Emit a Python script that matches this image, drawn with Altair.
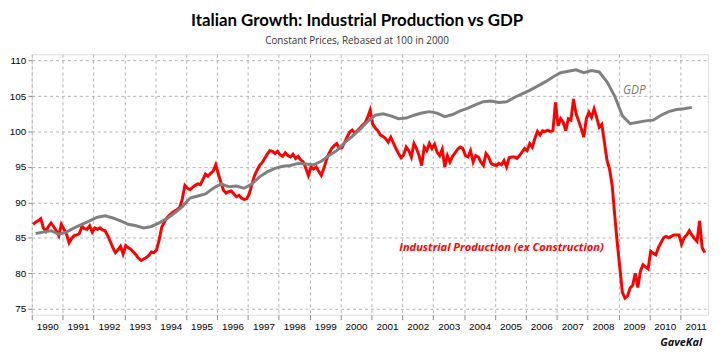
import altair as alt
import pandas as pd

# ---------------- data ----------------
years = list(range(1990, 2012))

ip_1990 = [86.9, 87.2, 87.4, 87.7, 86.4, 85.9, 86.6, 87.1, 86.6, 86.0, 85.3, 86.9]
ip_1991 = [86.2, 85.5, 84.3, 84.9, 85.3, 85.4, 85.6, 86.6, 86.3, 86.2, 86.7, 85.8]
ip_1992 = [86.4, 86.2, 86.4, 86.1, 86.0, 85.3, 84.5, 83.6, 82.9, 83.3, 83.8, 82.7]
ip_1993 = [83.9, 83.6, 83.4, 83.0, 82.6, 82.1, 81.8, 82.0, 82.2, 82.5, 83.0, 82.9]
ip_1994 = [83.3, 84.7, 86.5, 87.2, 87.8, 88.2, 88.5, 88.8, 89.0, 89.3, 90.5, 92.4]
ip_1995 = [92.0, 91.8, 92.1, 92.4, 92.6, 92.5, 93.2, 94.0, 93.7, 94.1, 94.4, 95.3]
ip_1996 = [94.0, 92.8, 91.7, 91.3, 91.5, 91.6, 91.2, 90.8, 91.0, 90.6, 90.4, 90.5]
ip_1997 = [91.2, 92.5, 93.7, 94.5, 95.2, 95.6, 96.2, 96.8, 97.3, 97.2, 96.9, 97.2]
ip_1998 = [96.7, 96.5, 97.0, 96.6, 96.4, 96.8, 96.2, 96.5, 96.0, 95.7, 94.8, 93.8]
ip_1999 = [95.0, 94.7, 95.0, 94.4, 93.8, 94.8, 96.0, 96.9, 97.6, 98.0, 98.3, 97.6]
ip_2000 = [97.7, 98.4, 99.2, 99.9, 100.2, 99.8, 100.1, 100.5, 100.9, 101.2, 102.0, 103.0]
ip_2001 = [101.0, 100.5, 100.1, 99.5, 99.3, 99.0, 98.5, 99.2, 98.4, 97.6, 96.9, 96.3]
ip_2002 = [96.7, 97.8, 97.3, 96.4, 98.3, 97.6, 96.6, 95.2, 97.8, 97.3, 98.3, 97.6]
ip_2003 = [98.2, 97.1, 96.6, 97.5, 95.0, 96.6, 95.7, 96.5, 97.0, 97.5, 97.8, 97.6]
ip_2004 = [96.6, 96.4, 97.3, 95.7, 96.6, 96.4, 95.7, 95.2, 96.9, 96.4, 95.5, 95.3]
ip_2005 = [95.2, 95.5, 95.3, 95.9, 95.0, 96.3, 96.4, 96.4, 96.2, 96.6, 97.1, 97.6]
ip_2006 = [97.3, 98.3, 97.8, 99.0, 100.0, 99.5, 100.1, 100.0, 100.2, 100.0, 100.1, 104.1]
ip_2007 = [100.8, 101.8, 101.3, 100.1, 101.8, 101.6, 104.6, 102.5, 101.5, 100.4, 99.2, 101.8]
ip_2008 = [102.7, 102.0, 103.2, 102.0, 100.6, 101.0, 98.5, 96.0, 94.7, 92.5, 88.3, 84.3]
ip_2009 = [80.8, 77.3, 76.5, 76.8, 77.9, 78.3, 80.0, 78.0, 80.3, 81.2, 80.9, 80.6]
ip_2010 = [83.1, 82.8, 82.6, 83.6, 84.3, 85.0, 85.2, 85.0, 85.2, 85.4, 85.4, 85.4]
ip_2011 = [84.1, 85.0, 85.4, 86.0, 85.4, 84.9, 84.5, 87.4, 83.6, 82.9]

# quarterly GDP, 1990Q1 .. 2011Q2
gdp_quarterly = [
    85.6, 85.8, 86.0, 85.5,
    85.8, 86.4, 86.9, 87.4,
    87.9, 88.1, 87.8, 87.4,
    86.9, 86.7, 86.4, 86.6,
    87.1, 87.7, 88.5, 89.4,
    90.6, 90.9, 91.2, 92.0,
    92.6, 92.2, 92.3, 92.0,
    92.6, 93.6, 94.3, 94.8,
    95.1, 95.2, 95.5, 95.4,
    95.3, 95.8, 96.6, 97.3,
    98.4, 99.3, 100.3, 101.4,
    102.3, 102.5, 102.2, 101.8,
    101.9, 102.3, 102.6, 102.8,
    102.6, 102.1, 102.4, 102.9,
    103.3, 103.8, 104.2, 104.3,
    104.1, 104.2, 104.8, 105.3,
    105.8, 106.4, 107.0, 107.7,
    108.3, 108.5, 108.7, 108.3,
    108.6, 108.4, 107.0, 105.0,
    102.2, 101.1, 101.3, 101.5,
    101.6, 102.3, 102.8, 103.1,
    103.2, 103.4,
]

y_ticks = [75, 80, 85, 90, 95, 100, 105, 110]

ann_labels = ["GDP", "Industrial Production (ex Construction)"]
ann_t = [2009.51, 2005.21]
ann_v = [105.85, 83.6]

# ---------------- tables ----------------
ip_years = [ip_1990, ip_1991, ip_1992, ip_1993, ip_1994, ip_1995, ip_1996,
            ip_1997, ip_1998, ip_1999, ip_2000, ip_2001, ip_2002, ip_2003,
            ip_2004, ip_2005, ip_2006, ip_2007, ip_2008, ip_2009, ip_2010,
            ip_2011]
rows = []
for yr, vals in zip(years, ip_years):
    for m, v in enumerate(vals):
        rows.append({"t": yr + (m + 0.5) / 12, "v": v})
ip_df = pd.DataFrame(rows)

gdp_df = pd.DataFrame({
    "t": [1990 + (i + 0.5) / 4 for i in range(len(gdp_quarterly))],
    "v": gdp_quarterly,
})

gdp_lab = pd.DataFrame({"t": [ann_t[0]], "v": [ann_v[0]], "s": [ann_labels[0]]})
ip_lab = pd.DataFrame({"t": [ann_t[1]], "v": [ann_v[1]], "s": [ann_labels[1]]})
sig = pd.DataFrame({"s": ["GaveKal"]})

# ---------------- encodings ----------------
x_scale = alt.Scale(domain=[1990, 2011.9], nice=False, zero=False)
y_scale = alt.Scale(domain=[74.15, 110.9], nice=False, zero=False)
x_axis = alt.Axis(values=years, format="d", labelOffset=15.6, labelFlush=False,
                  labelOverlap=False, title=None, domain=False, tickSize=5,
                  labelPadding=2, labelFontSize=10, grid=True,
                  gridDash=[3, 3], gridColor="#b0b0b0", gridWidth=1)
y_axis = alt.Axis(values=y_ticks, title=None, domain=False, tickSize=4,
                  labelPadding=2, labelFontSize=10, grid=True,
                  gridDash=[3, 3], gridColor="#b0b0b0", gridWidth=1)
x_enc = alt.X("t:Q", scale=x_scale, axis=x_axis)
y_enc = alt.Y("v:Q", scale=y_scale, axis=y_axis)

ip_line = alt.Chart(ip_df).mark_line(color="#ff0000", strokeWidth=3).encode(x=x_enc, y=y_enc)
gdp_line = alt.Chart(gdp_df).mark_line(color="#808080", strokeWidth=3).encode(x=x_enc, y=y_enc)

gdp_text = alt.Chart(gdp_lab).mark_text(
    font="Open Sans", fontStyle="italic", fontSize=12, color="#7a7a7a",
    align="center", baseline="middle",
).encode(x=x_enc, y=y_enc, text="s:N")

ip_text = alt.Chart(ip_lab).mark_text(
    font="Open Sans", fontStyle="italic", fontWeight="bold", fontSize=11.2,
    color="#ff0000", align="center", baseline="middle",
).encode(x=x_enc, y=y_enc, text="s:N")

sig_text = alt.Chart(sig).mark_text(
    font="Open Sans", fontStyle="italic", fontWeight="bold", fontSize=11,
    color="#111111", align="right", baseline="middle",
).encode(x=alt.value(677), y=alt.value(291.5), text="s:N")

chart = alt.layer(ip_line, gdp_line, gdp_text, ip_text, sig_text).properties(
    width=683,
    height=263,
    padding={"left": 24, "top": 45, "right": 10, "bottom": 38},
    autosize=alt.AutoSizeParams(type="none"),
    title=alt.TitleParams(
        text="Italian Growth: Industrial Production vs GDP",
        subtitle="Constant Prices, Rebased at 100 in 2000",
        font="Lato", fontSize=17, fontWeight="bold",
        color="#000000",
        subtitleFont="Open Sans", subtitleFontSize=10, subtitleColor="#333333",
        anchor="middle", offset=7, subtitlePadding=7, dx=-13,
    ),
).configure_view(
    stroke="#8a8a8a", strokeWidth=2.5, cornerRadius=5, fill="white",
).configure_axis(
    labelFont="Open Sans", labelColor="#222222",
    tickColor="#444444", tickWidth=1,
).configure(background="white")

chart.save("out.html", embed_options={"renderer": "svg", "actions": False})
